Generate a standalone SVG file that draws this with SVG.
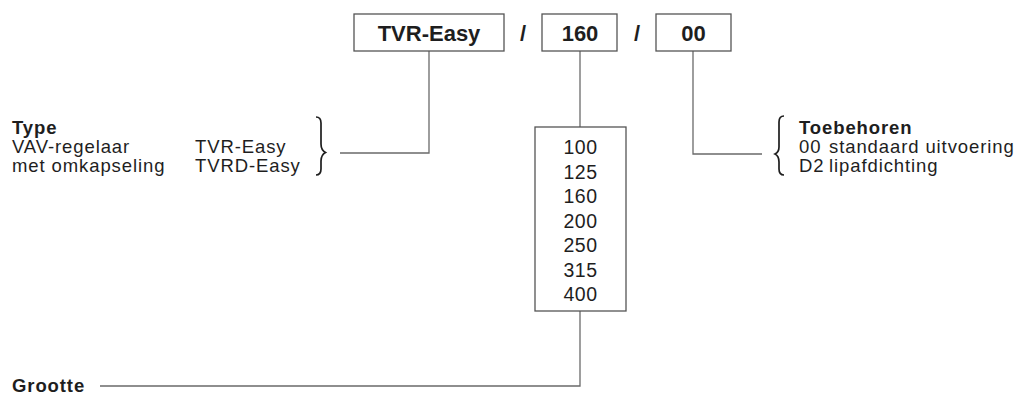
<svg xmlns="http://www.w3.org/2000/svg" width="1034" height="394" viewBox="0 0 1034 394">
<style>
text{font-family:"Liberation Sans",Arial,Helvetica,sans-serif;fill:#1e1e1e;}
.t{font-size:18.5px;letter-spacing:0.9px;}
.b{font-weight:bold;}
.h{font-size:22px;font-weight:bold;text-anchor:middle;}
.n{font-size:19.5px;text-anchor:middle;letter-spacing:0.5px;}
.box{fill:#fff;stroke:#555;stroke-width:1.3;}
.ln{fill:none;stroke:#6a6a6a;stroke-width:1.3;}
.br{fill:none;stroke:#1e1e1e;stroke-width:1.7;}
</style>
<rect width="1034" height="394" fill="#fff"/>
<g id="connectors">
<path class="ln" d="M429 51V153H340"/>
<path class="ln" d="M580 51V127"/>
<path class="ln" d="M580 311V386H100"/>
<path class="ln" d="M693 51V154H762"/>
</g>
<g id="code-type">
<rect class="box" x="354" y="14" width="150" height="37"/>
<text class="h" x="429" y="41">TVR-Easy</text>
</g>
<text class="h" x="523" y="41">/</text>
<g id="code-size">
<rect class="box" x="542" y="14" width="75" height="37"/>
<text class="h" x="580" y="41">160</text>
</g>
<text class="h" x="637" y="41">/</text>
<g id="code-acc">
<rect class="box" x="656" y="14" width="75" height="37"/>
<text class="h" x="693.5" y="41">00</text>
</g>
<g id="type">
<text class="t b" x="12" y="134">Type</text>
<text class="t" x="12" y="153">VAV-regelaar</text>
<text class="t" x="195" y="153">TVR-Easy</text>
<text class="t" x="12" y="172">met omkapseling</text>
<text class="t" x="195" y="172">TVRD-Easy</text>
<path class="br" d="M316 117Q321 117 321 123V144Q321 150 325.5 152.5Q321 155 321 161V169Q321 175 316 175"/>
</g>
<g id="sizes">
<rect class="box" x="535" y="127" width="91" height="184"/>
<text class="n" x="580.5" y="154">100</text>
<text class="n" x="580.5" y="178.5">125</text>
<text class="n" x="580.5" y="203">160</text>
<text class="n" x="580.5" y="227.5">200</text>
<text class="n" x="580.5" y="252">250</text>
<text class="n" x="580.5" y="276.5">315</text>
<text class="n" x="580.5" y="301">400</text>
</g>
<g id="acc">
<path class="br" d="M784 116Q779 116 779 122V147Q779 152 775 154Q779 156 779 162V169Q779 175 784 175"/>
<text class="t b" x="799" y="134">Toebehoren</text>
<text class="t" x="799" y="153">00</text>
<text class="t" x="829" y="153">standaard uitvoering</text>
<text class="t" x="799" y="172">D2</text>
<text class="t" x="829" y="172">lipafdichting</text>
</g>
<g id="grootte">
<text class="t b" x="12" y="392">Grootte</text>
</g>
</svg>
